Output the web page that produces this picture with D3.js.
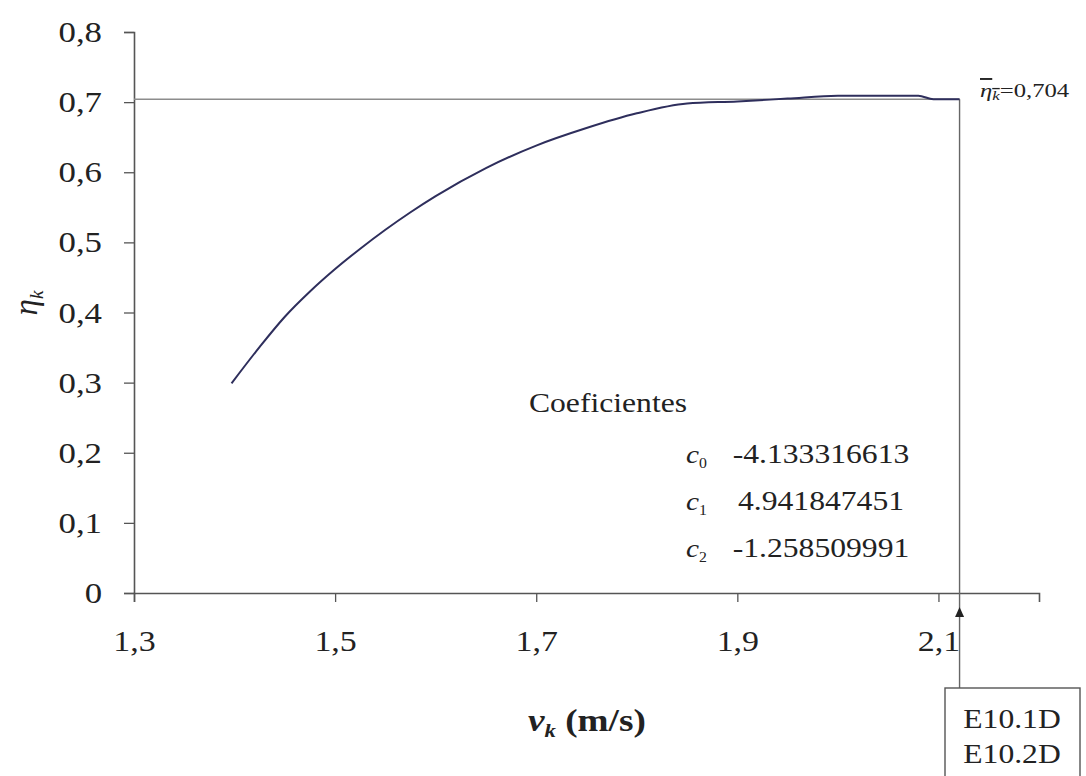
<!DOCTYPE html>
<html>
<head>
<meta charset="utf-8">
<script src="https://cdn.jsdelivr.net/npm/d3@7"></script>
<style>
  html, body { margin: 0; padding: 0; background: #fff; }
  svg { display: block; }
  svg text { font-family: "Liberation Serif", "Times New Roman", serif; }
</style>
</head>
<body>
<svg id="chart" width="1086" height="776"></svg>
<script>
// Efficiency curve eta_k versus speed v_k
const vk  = [1.397, 1.425, 1.450, 1.475, 1.500, 1.525, 1.550, 1.575, 1.600, 1.650, 1.700, 1.750, 1.800, 1.850, 1.900, 1.950, 2.000, 2.080, 2.095, 2.121];
const eta = [0.299, 0.351, 0.394, 0.430, 0.462, 0.491, 0.518, 0.543, 0.566, 0.606, 0.638, 0.663, 0.684, 0.698, 0.701, 0.705, 0.709, 0.709, 0.704, 0.704];

// Mean efficiency and the speed where it is marked
const etaMean = 0.704;
const vMark = 2.121;

// Axis ticks
const xTicks = [1.3, 1.5, 1.7, 1.9, 2.1];
const yTicks = [0, 0.1, 0.2, 0.3, 0.4, 0.5, 0.6, 0.7, 0.8];

// Polynomial fit coefficients
const coefNames  = ["0", "1", "2"];
const coefValues = ["-4.133316613", "4.941847451", "-1.258509991"];

// Case labels
const caseLabels = ["E10.1D", "E10.2D"];

const svg = d3.select("#chart");
const x = d3.scaleLinear().domain([1.3, 2.2]).range([134, 1039]);
const y = d3.scaleLinear().domain([0, 0.8]).range([593, 32]);
const comma = d => String(d).replace(".", ",");

const axisColor = "#555";
const textColor = "#222";
const WIDE = 1.13; // text in this figure is set slightly wide

// Text placed at (px,py) and widened horizontally by k
function label(px, py, k, anchor) {
  return svg.append("g")
    .attr("transform", `translate(${px},${py}) scale(${k},1)`)
    .append("text")
    .attr("text-anchor", anchor || "start")
    .attr("fill", textColor);
}

// y axis
const gy = svg.append("g")
  .attr("transform", `translate(${x(1.3)},0)`)
  .call(d3.axisLeft(y).tickValues(yTicks).tickSize(10).tickFormat(comma));
// x axis
const gx = svg.append("g")
  .attr("transform", `translate(0,${y(0)})`)
  .call(d3.axisBottom(x).tickValues(xTicks).tickSize(9).tickFormat(comma));

[gx, gy].forEach(g => {
  g.attr("font-family", null);
  g.select(".domain").attr("stroke", axisColor).attr("stroke-width", 1.6);
  g.selectAll(".tick line").attr("stroke", axisColor).attr("stroke-width", 1.3);
  g.selectAll(".tick text")
    .attr("fill", textColor)
    .style("font-size", "30px");
});
gy.selectAll(".tick text")
  .attr("x", -32 / 1.16)
  .attr("transform", "scale(1.16,1)");
gx.selectAll(".tick text")
  .attr("y", 58)
  .attr("dy", null)
  .attr("transform", `scale(${WIDE},1)`);

// Mean efficiency reference line
svg.append("line")
  .attr("x1", x(1.3)).attr("x2", x(vMark))
  .attr("y1", y(etaMean)).attr("y2", y(etaMean))
  .attr("stroke", "#8c8c8c").attr("stroke-width", 1.6);

// Vertical marker line down to the case box
const boxTop = 688;
svg.append("line")
  .attr("x1", x(vMark)).attr("x2", x(vMark))
  .attr("y1", y(etaMean)).attr("y2", boxTop)
  .attr("stroke", "#666").attr("stroke-width", 1.4);

// Arrowhead pointing at the axis
const ax = x(vMark);
svg.append("path")
  .attr("d", `M${ax},${y(0) + 14} L${ax - 4.5},${y(0) + 24} L${ax + 4.5},${y(0) + 24} Z`)
  .attr("fill", "#222");

// Efficiency curve
const pts = vk.map((v, i) => [v, eta[i]]);
svg.append("path")
  .datum(pts)
  .attr("fill", "none")
  .attr("stroke", "#2e2e5c")
  .attr("stroke-width", 2)
  .attr("stroke-linejoin", "round")
  .attr("d", d3.line().curve(d3.curveMonotoneX).x(d => x(d[0])).y(d => y(d[1])));

// Mean value label
const ml = label(980, 97, 1.3).style("font-size", "19px");
ml.append("tspan").style("font-style", "italic").style("text-decoration", "overline").text("η");
ml.append("tspan").style("font-style", "italic").style("font-size", "13px").attr("dy", 3).style("text-decoration", "overline").text("k");
ml.append("tspan").attr("dy", -3).text("=" + comma(etaMean));

// Axis titles
const yl = svg.append("text")
  .attr("transform", "translate(37,303) rotate(-90)")
  .attr("text-anchor", "middle")
  .attr("fill", textColor)
  .style("font-size", "33px")
  .style("font-style", "italic");
yl.append("tspan").text("η");
yl.append("tspan").attr("dy", 6).style("font-size", "19px").text("k");

const xl = label(528, 731, 1.2).style("font-size", "31px").style("font-weight", "bold");
xl.append("tspan").style("font-style", "italic").text("v");
xl.append("tspan").style("font-style", "italic").style("font-size", "19px").attr("dy", 6).text("k");
xl.append("tspan").attr("dy", -6).text(" (m/s)");

// Coefficient table
label(608, 412, WIDE, "middle").style("font-size", "28px").text("Coeficientes");

const rowY = [463, 510, 557];
coefNames.forEach((n, i) => {
  const t = label(686, rowY[i], WIDE).style("font-size", "26px").style("font-style", "italic");
  t.append("tspan").text("c");
  t.append("tspan").attr("dy", 5).style("font-size", "14px").style("font-style", "normal").text(n);
  label(821, rowY[i], WIDE, "middle").style("font-size", "28px").text(coefValues[i]);
});

// Case box
svg.append("rect")
  .attr("x", 945).attr("y", boxTop)
  .attr("width", 135).attr("height", 100)
  .attr("fill", "#fff")
  .attr("stroke", "#555").attr("stroke-width", 1.4);
caseLabels.forEach((c, i) => {
  label(1012, 728 + i * 35, WIDE, "middle").style("font-size", "28px").text(c);
});
</script>
</body>
</html>
